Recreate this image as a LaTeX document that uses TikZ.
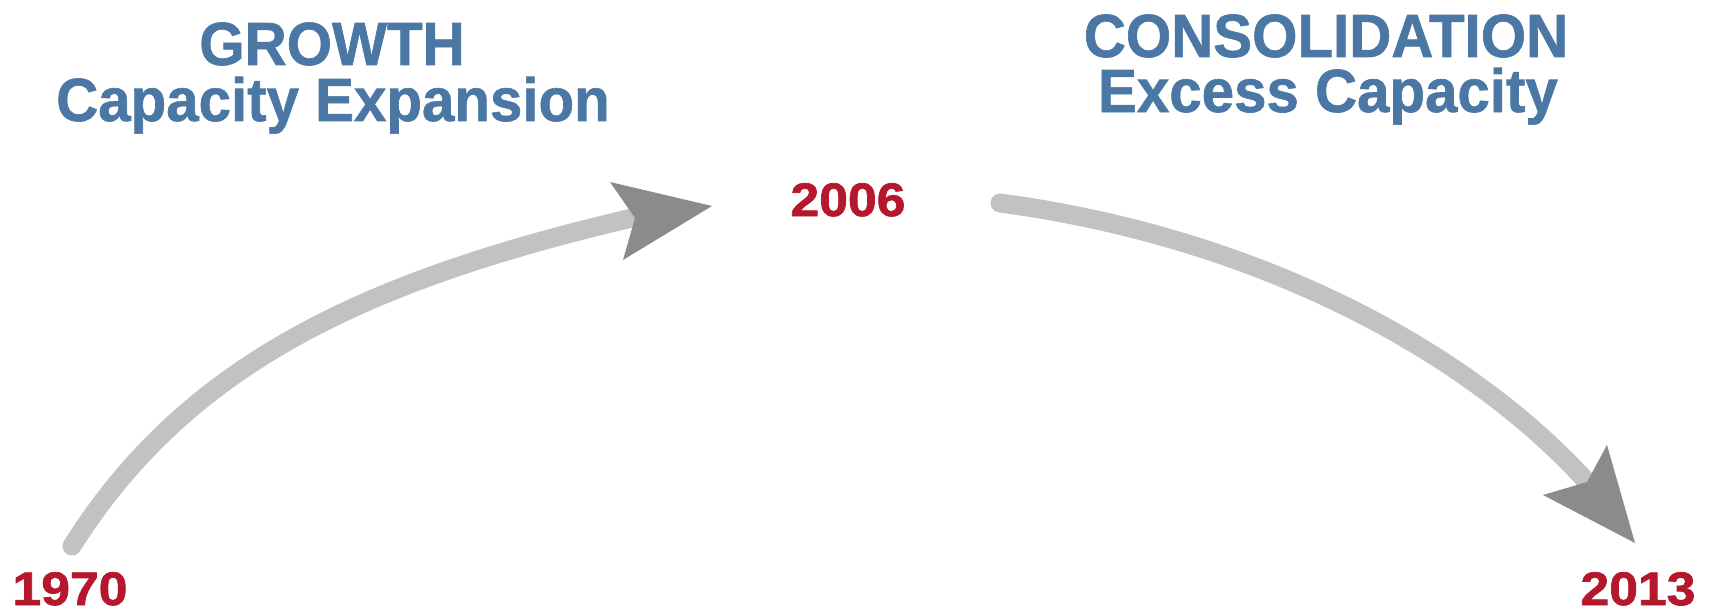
\documentclass[tikz,border=0pt]{standalone}
\usepackage{fontspec}
\newfontfamily\headfont[FakeStretch=0.955,FakeBold=1]{Liberation Sans Bold}
\newfontfamily\yearfont[FakeStretch=1.1,FakeBold=1.5]{Liberation Sans Bold}
\definecolor{headblue}{HTML}{4A77A4}
\definecolor{yearred}{HTML}{B5172C}
\definecolor{shaftgray}{HTML}{C1C3C1}
\definecolor{tipgray}{HTML}{8A8B8A}
\tikzset{
  heading/.style={anchor=base, inner sep=0pt, text=headblue, font=\headfont\fontsize{61}{54}\selectfont},
  year/.style={anchor=base, inner sep=0pt, text=yearred, font=\yearfont\fontsize{47}{47}\selectfont},
  shaft/.style={draw=shaftgray, line width=19pt, line cap=round},
  head/.style={fill=tipgray}
}
\begin{document}
\begin{tikzpicture}[x=1pt,y=-1pt]
\useasboundingbox (0,0) rectangle (1711,610);
% headings
\node[heading] (growth) at (332,65) {GROWTH};
\node[heading] (capexp) at (333,121) {Capacity Expansion};
\node[heading] (consol) at (1326,57) {CONSOLIDATION};
\node[heading] (excess) at (1328,112) {Excess Capacity};
% years
\node[year] (y1970) at (70,605) {1970};
\node[year] (y2006) at (848,216) {2006};
\node[year] (y2013) at (1638,605) {2013};
% arrow 1
\coordinate (a1s) at (72,546);
\coordinate (a1e) at (632,218);
\coordinate (t1) at (712,206);
\coordinate (t1a) at (610,182);
\coordinate (t1n) at (635,218);
\coordinate (t1b) at (623,260);
\draw[shaft] (a1s) .. controls (186,365) and (363,281) .. (a1e);
\fill[head] (t1) -- (t1a) -- (t1n) -- (t1b) -- cycle;
% arrow 2
\coordinate (a2s) at (1000,203);
\coordinate (a2e) at (1588,483);
\coordinate (t2) at (1635,543);
\coordinate (t2a) at (1607,445);
\coordinate (t2n) at (1587,482);
\coordinate (t2b) at (1543,495);
\draw[shaft] (a2s) .. controls (1248,236) and (1463,345) .. (a2e);
\fill[head] (t2) -- (t2a) -- (t2n) -- (t2b) -- cycle;
\end{tikzpicture}
\end{document}
